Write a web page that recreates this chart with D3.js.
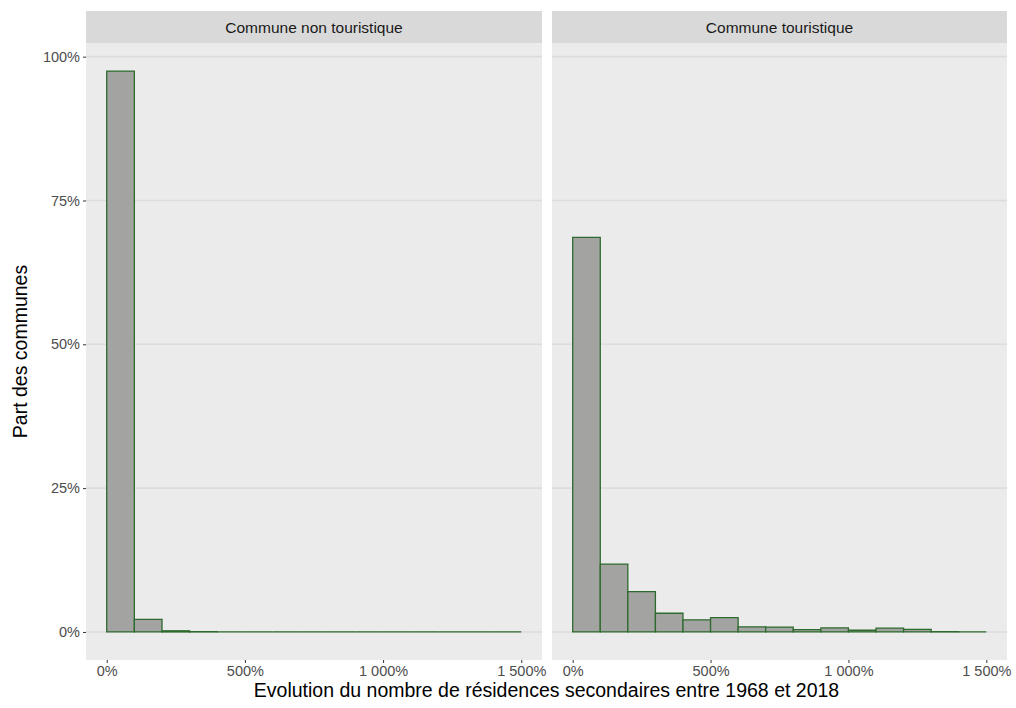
<!DOCTYPE html>
<html><head><meta charset="utf-8">
<script src="https://cdn.jsdelivr.net/npm/d3@7"></script>
<style>body{margin:0;background:#fff}svg{display:block}text{font-family:"Liberation Sans",Arial,sans-serif}</style>
</head><body><div id="chart"></div>
<script>
// Data: share of communes per 100%-wide bin of change in secondary homes (0% .. 1500%)
const binStarts = [0,100,200,300,400,500,600,700,800,900,1000,1100,1200,1300,1400];
const binWidth = 100;
const panels = ["Commune non touristique", "Commune touristique"];
const nonTouristique = [0.975,0.022,0.002,0.0005,0,0,0,0,0,0,0,0,0,0,0];
const touristique = [0.686,0.118,0.070,0.0325,0.021,0.025,0.009,0.0085,0.004,0.007,0.003,0.0065,0.0045,0.0005,0];
const xTicks = [0,500,1000,1500];
const yTicks = [0,0.25,0.5,0.75,1];
const seriesByPanel = [nonTouristique, touristique];

const W = 1016, H = 708;
const svg = d3.select("#chart").append("svg").attr("width", W).attr("height", H);

const panelBoxes = [{x0:86, x1:542}, {x0:552, x1:1007}];
const stripTop = 11, panelTop = 43, panelBottom = 660;

const maxV = d3.max(seriesByPanel.flat());
const yPad = maxV * 0.05;
const y = d3.scaleLinear().domain([-yPad, maxV + yPad]).range([panelBottom, panelTop]);
const fmtX = v => v === 0 ? "0%" : d3.format(",")(v).replace(/,/g, " ") + "%";
const fmtY = v => Math.round(v * 100) + "%";

panelBoxes.forEach((pb, i) => {
  const x = d3.scaleLinear().domain([-75, 1575]).range([pb.x0, pb.x1]);
  const g = svg.append("g");
  // strip
  g.append("rect").attr("x", pb.x0).attr("y", stripTop).attr("width", pb.x1 - pb.x0).attr("height", panelTop - stripTop).attr("fill", "#d9d9d9");
  g.append("text").attr("x", (pb.x0 + pb.x1) / 2).attr("y", (stripTop + panelTop) / 2 + 5.5)
    .attr("text-anchor", "middle").attr("font-size", 15.5).attr("fill", "#1a1a1a").text(panels[i]);
  // panel
  g.append("rect").attr("x", pb.x0).attr("y", panelTop).attr("width", pb.x1 - pb.x0).attr("height", panelBottom - panelTop).attr("fill", "#ebebeb");
  g.selectAll("line.grid").data(yTicks).join("line").attr("class", "grid")
    .attr("x1", pb.x0).attr("x2", pb.x1).attr("y1", d => y(d)).attr("y2", d => y(d))
    .attr("stroke", "#dcdcdc").attr("stroke-width", 1.6);
  // bars
  const vals = seriesByPanel[i];
  g.selectAll("path.bar").data(binStarts.map((s, k) => ({s, v: vals[k]}))).join("path").attr("class", "bar")
    .attr("d", d => {
      const p = d3.path();
      p.moveTo(x(d.s), y(0)); p.lineTo(x(d.s), y(d.v)); p.lineTo(x(d.s + binWidth), y(d.v)); p.lineTo(x(d.s + binWidth), y(0)); p.closePath();
      return p.toString();
    })
    .attr("fill", "#a3a4a1").attr("stroke", "#2e6a2e").attr("stroke-width", 1.3);
  // x axis
  const xa = svg.append("g").attr("transform", `translate(0,${panelBottom})`)
    .call(d3.axisBottom(x).tickValues(xTicks).tickFormat(fmtX).tickSize(3).tickPadding(3));
  xa.select(".domain").remove();
  xa.selectAll("line").attr("stroke", "#333");
  xa.selectAll("text").attr("font-size", 14.5).attr("fill", "#4d4d4d").attr("font-family", "Liberation Sans, Arial, sans-serif");
  if (i === 0) {
    const ya = svg.append("g").attr("transform", `translate(${pb.x0},0)`)
      .call(d3.axisLeft(y).tickValues(yTicks).tickFormat(fmtY).tickSize(3).tickPadding(3));
    ya.select(".domain").remove();
    ya.selectAll("line").attr("stroke", "#333");
    ya.selectAll("text").attr("font-size", 14.5).attr("fill", "#4d4d4d").attr("font-family", "Liberation Sans, Arial, sans-serif");
  }
});

svg.append("text").attr("x", (86 + 1007) / 2).attr("y", 697).attr("text-anchor", "middle")
  .attr("font-size", 19.5).attr("fill", "#000").text("Evolution du nombre de résidences secondaires entre 1968 et 2018");
svg.append("text").attr("transform", `translate(27,${(panelTop + panelBottom) / 2}) rotate(-90)`).attr("text-anchor", "middle")
  .attr("font-size", 19.5).attr("fill", "#000").text("Part des communes");
</script></body></html>
